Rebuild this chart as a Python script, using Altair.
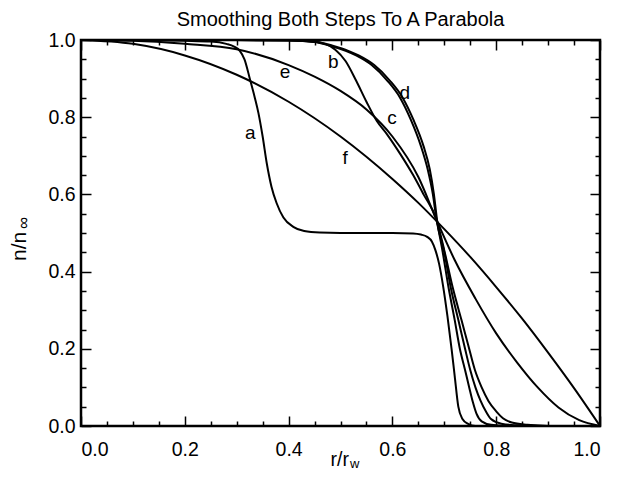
import altair as alt
import pandas as pd

# ---- curve data ----
a_x = [0.0, 0.1, 0.2, 0.25, 0.28, 0.295, 0.306, 0.315, 0.326, 0.335, 0.342, 0.35, 0.358, 0.367, 0.377, 0.39, 0.409, 0.43, 0.46, 0.5, 0.6, 0.64, 0.655, 0.667, 0.676, 0.683, 0.69, 0.698, 0.706, 0.714, 0.72, 0.727, 0.735, 0.745, 0.76, 1.0]
a_y = [1.0, 1.0, 0.998, 0.996, 0.99, 0.983, 0.972, 0.95, 0.896, 0.85, 0.81, 0.75, 0.68, 0.62, 0.577, 0.54, 0.516, 0.505, 0.501, 0.5, 0.5, 0.499, 0.496, 0.49, 0.478, 0.455, 0.42, 0.36, 0.285, 0.2, 0.13, 0.05, 0.018, 0.006, 0.0, 0.0]

b_x = [0.0, 0.3, 0.4, 0.44, 0.47, 0.49, 0.51, 0.53, 0.55, 0.57, 0.59, 0.615, 0.64, 0.66, 0.685, 0.70, 0.716, 0.733, 0.746, 0.759, 0.772, 0.785, 0.8, 0.813, 0.83, 0.86, 0.9, 1.0]
b_y = [1.0, 1.0, 1.0, 0.997, 0.99, 0.975, 0.945, 0.895, 0.84, 0.79, 0.755, 0.705, 0.65, 0.6, 0.534, 0.455, 0.36, 0.275, 0.21, 0.145, 0.1, 0.065, 0.038, 0.02, 0.009, 0.003, 0.0, 0.0]

c_x = [0.0, 0.3, 0.4, 0.45, 0.48, 0.51, 0.53, 0.56, 0.59, 0.615, 0.635, 0.655, 0.668, 0.678, 0.685, 0.70, 0.713, 0.727, 0.74, 0.75, 0.76, 0.77, 0.78, 0.79, 0.81, 0.85, 0.9, 1.0]
c_y = [1.0, 1.0, 0.999, 0.995, 0.985, 0.972, 0.96, 0.935, 0.895, 0.85, 0.795, 0.725, 0.665, 0.6, 0.534, 0.45, 0.355, 0.275, 0.2, 0.145, 0.1, 0.065, 0.038, 0.018, 0.006, 0.001, 0.0, 0.0]

d_x = [0.0, 0.3, 0.4, 0.455, 0.485, 0.515, 0.535, 0.565, 0.595, 0.62, 0.64, 0.66, 0.672, 0.68, 0.686, 0.697, 0.708, 0.72, 0.73, 0.74, 0.748, 0.755, 0.762, 0.772, 0.79, 0.82, 1.0]
d_y = [1.0, 1.0, 0.999, 0.995, 0.985, 0.972, 0.96, 0.935, 0.895, 0.85, 0.795, 0.725, 0.665, 0.6, 0.534, 0.45, 0.36, 0.275, 0.2, 0.145, 0.1, 0.062, 0.032, 0.012, 0.003, 0.0, 0.0]

e_x = [0.0, 0.1, 0.2, 0.3, 0.4, 0.45, 0.5, 0.55, 0.6, 0.65, 0.685, 0.72, 0.76, 0.8, 0.84, 0.88, 0.92, 0.96, 1.0]
e_y = [1.0, 0.998, 0.99, 0.976, 0.935, 0.905, 0.868, 0.82, 0.75, 0.645, 0.534, 0.43, 0.33, 0.24, 0.165, 0.1, 0.048, 0.015, 0.0]

f_x = [0.0, 0.1, 0.2, 0.3, 0.4, 0.5, 0.6, 0.65, 0.7, 0.75, 0.8, 0.85, 0.9, 0.95, 1.0]
f_y = [1.0, 0.99, 0.96, 0.91, 0.84, 0.75, 0.64, 0.578, 0.51, 0.438, 0.36, 0.278, 0.19, 0.098, 0.0]

series = [("a", a_x, a_y), ("b", b_x, b_y), ("c", c_x, c_y),
          ("d", d_x, d_y), ("e", e_x, e_y), ("f", f_x, f_y)]

# curve labels
lab_text = ["a", "b", "c", "d", "e", "f"]
lab_x = [0.326, 0.486, 0.599, 0.624, 0.393, 0.509]
lab_y = [0.758, 0.944, 0.797, 0.862, 0.918, 0.694]

major_ticks = [0.0, 0.2, 0.4, 0.6, 0.8, 1.0]
minor_ticks = [0.05, 0.1, 0.15, 0.25, 0.3, 0.35, 0.45, 0.5, 0.55,
               0.65, 0.7, 0.75, 0.85, 0.9, 0.95]

rows = []
for name, xs, ys in series:
    for i, (xv, yv) in enumerate(zip(xs, ys)):
        rows.append({"series": name, "x": xv, "y": yv, "i": i})
df = pd.DataFrame(rows)
labels_df = pd.DataFrame({"t": lab_text, "x": lab_x, "y": lab_y})

FONT = "Liberation Sans"
W, H = 519, 386

xscale = alt.Scale(domain=[0, 1], nice=False, zero=False)
yscale = alt.Scale(domain=[0, 1], nice=False, zero=False)


def main_axis(orient, pad):
    return alt.Axis(orient=orient, values=major_ticks, format=".1f",
                    ticks=False, tickSize=0, domain=False, grid=False,
                    labelFont=FONT, labelFontSize=19.5, labelColor="black",
                    labelPadding=pad, title=None)


def tick_axis(orient, vals, size):
    return alt.Axis(orient=orient, values=vals, ticks=True, tickSize=size,
                    tickWidth=1.5, tickColor="black", labels=False,
                    domain=False, grid=False, title=None, offset=-size)


base = alt.Chart(df)

lines = base.mark_line(interpolate="monotone", color="black", strokeWidth=2).encode(
    x=alt.X("x:Q", scale=xscale, axis=main_axis("bottom", 14)),
    y=alt.Y("y:Q", scale=yscale, axis=main_axis("left", 6)),
    detail="series:N",
    order="i:Q",
)


def tick_layer(xo, yo, vals, size):
    return base.mark_line(opacity=0).encode(
        x=alt.X("x:Q", scale=xscale, axis=tick_axis(xo, vals, size)),
        y=alt.Y("y:Q", scale=yscale, axis=tick_axis(yo, vals, size)),
        detail="series:N",
    )


t1 = tick_layer("bottom", "left", major_ticks, 10)
t2 = tick_layer("bottom", "left", minor_ticks, 5)
t3 = tick_layer("top", "right", major_ticks, 10)
t4 = tick_layer("top", "right", minor_ticks, 5)

curve_labels = alt.Chart(labels_df).mark_text(
    font=FONT, fontSize=19, color="black", align="center", baseline="middle"
).encode(
    x=alt.X("x:Q", scale=xscale, axis=None),
    y=alt.Y("y:Q", scale=yscale, axis=None),
    text="t:N",
)


def txt(s, x, y, size, angle=0, align="center"):
    return alt.Chart(pd.DataFrame({"t": [s]})).mark_text(
        font=FONT, fontSize=size, color="black", align=align,
        baseline="alphabetic", angle=angle
    ).encode(x=alt.value(x), y=alt.value(y), text="t:N")


xt1 = txt("r/r", 268, 426, 19.5, align="right")
xt2 = txt("w", 269, 428, 13, align="left")
yt1 = txt("n/n", -55, 221, 21, angle=270, align="left")
yt2 = txt("\u221e", -52, 183, 17, angle=270, align="center")

chart = alt.layer(lines, t1, t2, t3, t4, curve_labels, xt1, xt2, yt1, yt2).resolve_axis(
    x="independent", y="independent"
).properties(
    width=W, height=H,
    title=alt.TitleParams("Smoothing Both Steps To A Parabola", font=FONT,
                          fontSize=20, fontWeight="normal", color="black",
                          anchor="middle", offset=0),
    autosize=alt.AutoSizeParams(type="none"),
    padding={"left": 73, "top": 32, "right": 20, "bottom": 45},
).configure_view(stroke="black", strokeWidth=2.5)

chart.save("out.html", embed_options={"renderer": "svg", "actions": False})
